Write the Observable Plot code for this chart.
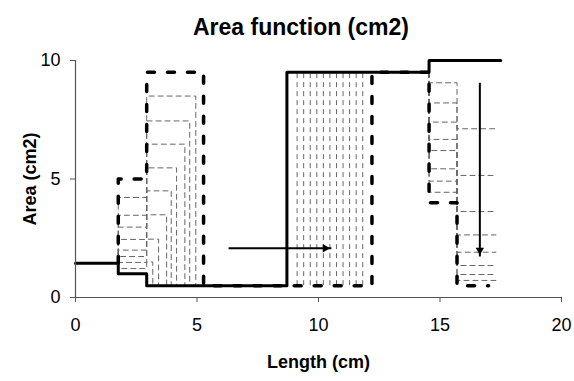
<!DOCTYPE html>
<html><head><meta charset="utf-8">
<script src="https://cdn.jsdelivr.net/npm/d3@7"></script>
<script src="https://cdn.jsdelivr.net/npm/@observablehq/plot@0.6"></script>
<style>
body{margin:0;background:#fff;font-family:"Liberation Sans",Arial,sans-serif;}
#wrap{position:relative;width:574px;height:381px;overflow:hidden;}
#title{position:absolute;top:16px;left:0;width:602px;text-align:center;font-weight:bold;font-size:23px;line-height:23px;color:#000;}
#chart{position:absolute;top:45px;left:0;}
[aria-label="x-axis label"],[aria-label="y-axis label"]{font-weight:bold;font-size:18px;}
</style></head>
<body><div id="wrap"><div id="title">Area function (cm2)</div><div id="chart"></div></div>
<script>
// tick labels
const xTicks = [0, 5, 10, 15, 20];
const yTicks = [0, 5, 10];
// main area function (step-after vertices)
const mainX = [0, 1.76, 2.93, 8.7, 14.55, 17.5];
const mainY = [1.45, 1.0, 0.5, 9.5, 10, 10];
// final shifted area function (thick dashed, step-after vertices)
const finalX = [1.76, 1.76, 2.93, 5.27, 12.2, 14.55, 15.7, 17.0];
const finalY = [1.45, 5.0, 9.5, 0.5, 9.5, 4.0, 0.5, 0.5];
// group 1 intermediate steps
const g1Small = [1.22, 1.48, 1.73, 2.0, 2.45, 2.97, 3.47, 4.22];
const g1Big = [1.5, 2.46, 3.49, 4.5, 5.47, 6.47, 7.45, 8.5];
const g1Right = [3.18, 3.42, 3.75, 3.94, 4.16, 4.5, 4.7, 4.95];
// group 2 intermediate step positions
const g2X = [9.12, 9.39, 9.66, 9.93, 10.2, 10.47, 10.74, 11.01, 11.28, 11.55, 11.82];
// group 3 intermediate steps
const g3Left = [9.06, 8.21, 7.40, 6.67, 6.20, 5.43, 4.91, 4.44];
const g3Right = [7.12, 5.15, 3.63, 2.64, 1.91, 1.35, 0.97, 0.72];
const g3End = 17.3;
// arrows
const arrowX1 = [6.3, 16.64], arrowY1 = [2.08, 9.06];
const arrowX2 = [10.53, 16.64], arrowY2 = [2.08, 1.73];

const mainRows = mainX.map((x, i) => ({x, y: mainY[i]}));
const finalRows = finalX.map((x, i) => ({x, y: finalY[i]}));
const g1Rows = g1Small.flatMap((s, k) => [
  {k, x: mainX[1], y: mainY[0]},
  {k, x: mainX[1], y: s},
  {k, x: mainX[2], y: g1Big[k]},
  {k, x: g1Right[k], y: mainY[2]}
]);
const g3Rows = g3Left.flatMap((l, k) => [
  {k, x: mainX[4], y: mainY[3]},
  {k, x: mainX[4], y: l},
  {k, x: finalX[6], y: g3Right[k]},
  {k, x: g3End, y: g3Right[k]}
]);
const arrows = arrowX1.map((x1, i) => ({
  x1, y1: arrowY1[i], x2: arrowX2[i], y2: arrowY2[i],
  rot: Math.atan2(arrowX2[i] - x1, arrowY2[i] - arrowY1[i]) * 180 / Math.PI
}));

// filled arrow head: triangle whose tip sits on the arrow end
const headR = 4;
const tipOff = 2 * Math.sqrt(Math.PI * headR * headR / (3 * Math.sqrt(3)));
const heads = arrows.map(a => Plot.dot([a], {
  x: "x2", y: "y2", symbol: "triangle2", r: headR, fill: "#000", stroke: "none",
  rotate: "rot",
  dx: -tipOff * Math.sin(a.rot * Math.PI / 180),
  dy: tipOff * Math.cos(a.rot * Math.PI / 180)
}));

const thin = {stroke: "#666", strokeWidth: 1, strokeDasharray: "5,4"};
const plot = Plot.plot({
  width: 574, height: 336,
  marginLeft: 75, marginRight: 13, marginTop: 15, marginBottom: 84,
  x: {domain: [0, 20]},
  y: {domain: [0, 10]},
  style: {fontFamily: '"Liberation Sans",Arial,sans-serif', fontSize: "18px", color: "#000", background: "#fff"},
  marks: [
    Plot.line(g1Rows, {x: "x", y: "y", z: "k", curve: "step-after", ...thin}),
    Plot.ruleX(g2X, {x: d => d, y1: mainY[2], y2: mainY[3], ...thin}),
    Plot.line(g3Rows, {x: "x", y: "y", z: "k", curve: "step-after", ...thin}),
    Plot.line(finalRows, {x: "x", y: "y", curve: "step-after", stroke: "#000", strokeWidth: 3.5, strokeDasharray: "7,13"}),
    Plot.line(mainRows, {x: "x", y: "y", curve: "step-after", stroke: "#000", strokeWidth: 3}),
    Plot.link(arrows, {x1: "x1", y1: "y1", x2: "x2", y2: "y2", stroke: "#000", strokeWidth: 2}),
    ...heads,
    Plot.ruleY([0], {stroke: "#555", strokeWidth: 1.2}),
    Plot.ruleX([0], {stroke: "#555", strokeWidth: 1.2}),
    Plot.axisX({ticks: xTicks, tickSize: 5, tickPadding: 16, stroke: "#555", label: "Length (cm)", labelAnchor: "center", labelArrow: "none", labelOffset: 70}),
    Plot.axisY({ticks: yTicks, tickSize: 5, tickPadding: 10, stroke: "#555", label: "Area (cm2)", labelAnchor: "center", labelArrow: "none", labelOffset: 52})
  ]
});
document.getElementById("chart").appendChild(plot);
</script>
</body></html>
